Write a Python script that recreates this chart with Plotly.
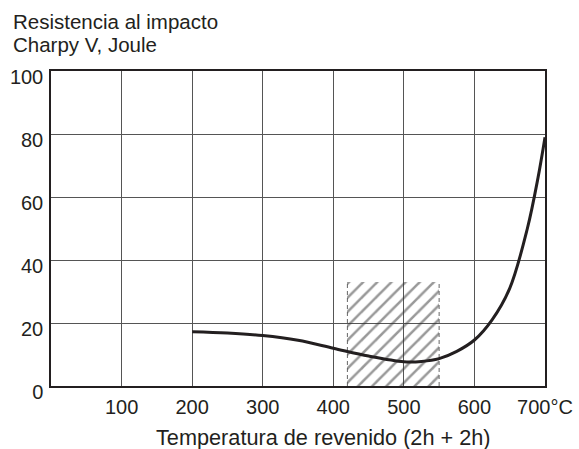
import plotly.graph_objects as go

# Curve data (tempering temperature °C vs Charpy V impact energy J)
temp = [200, 250, 300, 350, 400, 450, 500, 525, 550, 575, 600, 625, 650, 675, 690, 700]
energy = [17.2, 16.8, 16.0, 14.5, 12.0, 9.5, 7.7, 7.8, 8.7, 11.0, 14.6, 21.0, 31.0, 50.0, 66.0, 79.0]

# Hatched range
hatch_x0, hatch_x1 = 420, 550
hatch_top = 33

x_ticks = [100, 200, 300, 400, 500, 600, 700]
x_ticktext = ["100", "200", "300", "400", "500", "600", "700°C"]
y_ticks = [0, 20, 40, 60, 80, 100]

FONT = "Liberation Sans, Arial, sans-serif"
TXT = "#231f20"
FS = 20

fig = go.Figure()

fig.add_trace(go.Bar(
    x=[(hatch_x0 + hatch_x1) / 2], y=[hatch_top], width=[hatch_x1 - hatch_x0],
    marker=dict(color="rgba(0,0,0,0)", line=dict(width=0),
                pattern=dict(shape="/", fgcolor="#333", bgcolor="rgba(0,0,0,0)",
                             size=10, solidity=0.25, fillmode="overlay")),
    showlegend=False, hoverinfo="skip"))

for xe in (hatch_x0, hatch_x1):
    fig.add_trace(go.Scatter(x=[xe, xe], y=[0, hatch_top], mode="lines",
                             line=dict(color="#666", width=1, dash="4px,3px"),
                             showlegend=False, hoverinfo="skip"))

fig.add_trace(go.Scatter(x=temp, y=energy, mode="lines",
                         line=dict(color="#231f20", width=3, shape="spline", smoothing=1.0),
                         showlegend=False))

fig.update_layout(
    width=579, height=449,
    margin=dict(l=51, r=34, t=71, b=63, autoexpand=False),
    paper_bgcolor="white", plot_bgcolor="white",
    font=dict(family=FONT, size=FS, color=TXT),
    bargap=0,
    xaxis=dict(range=[0, 700], tickvals=x_ticks, ticktext=x_ticktext,
               showgrid=True, gridcolor="#555", gridwidth=1,
               showline=True, linecolor="#231f20", linewidth=1.5, mirror=True,
               ticks="", zeroline=False, ticklabelstandoff=2,
               ticklabeloverflow="allow",
               tickfont=dict(family=FONT, size=FS, color=TXT)),
    yaxis=dict(range=[0, 100], tickvals=y_ticks,
               showgrid=True, gridcolor="#555", gridwidth=1,
               showline=True, linecolor="#231f20", linewidth=1.5, mirror=True,
               ticks="", zeroline=False, ticklabelstandoff=2, ticklabelshift=6,
               ticklabeloverflow="allow",
               tickfont=dict(family=FONT, size=FS, color=TXT)),
    annotations=[
        dict(text="Resistencia al impacto", xref="paper", yref="paper",
             x=-40 / 494, y=1, yshift=50, xanchor="left", yanchor="middle",
             showarrow=False, font=dict(family=FONT, size=20.5, color=TXT)),
        dict(text="Charpy V, Joule", xref="paper", yref="paper",
             x=-40 / 494, y=1, yshift=27, xanchor="left", yanchor="middle",
             showarrow=False, font=dict(family=FONT, size=20.5, color=TXT)),
        dict(text="Temperatura de revenido (2h + 2h)", xref="paper", yref="paper",
             x=0.552, y=0, yshift=-51, xanchor="center", yanchor="middle",
             showarrow=False, font=dict(family=FONT, size=21.7, color=TXT)),
    ],
)

# remove the browser's default 8px body margin so the figure fills the window exactly
fig.write_html("out.html", config={"displayModeBar": False},
               post_script="document.body.style.margin='0';")
